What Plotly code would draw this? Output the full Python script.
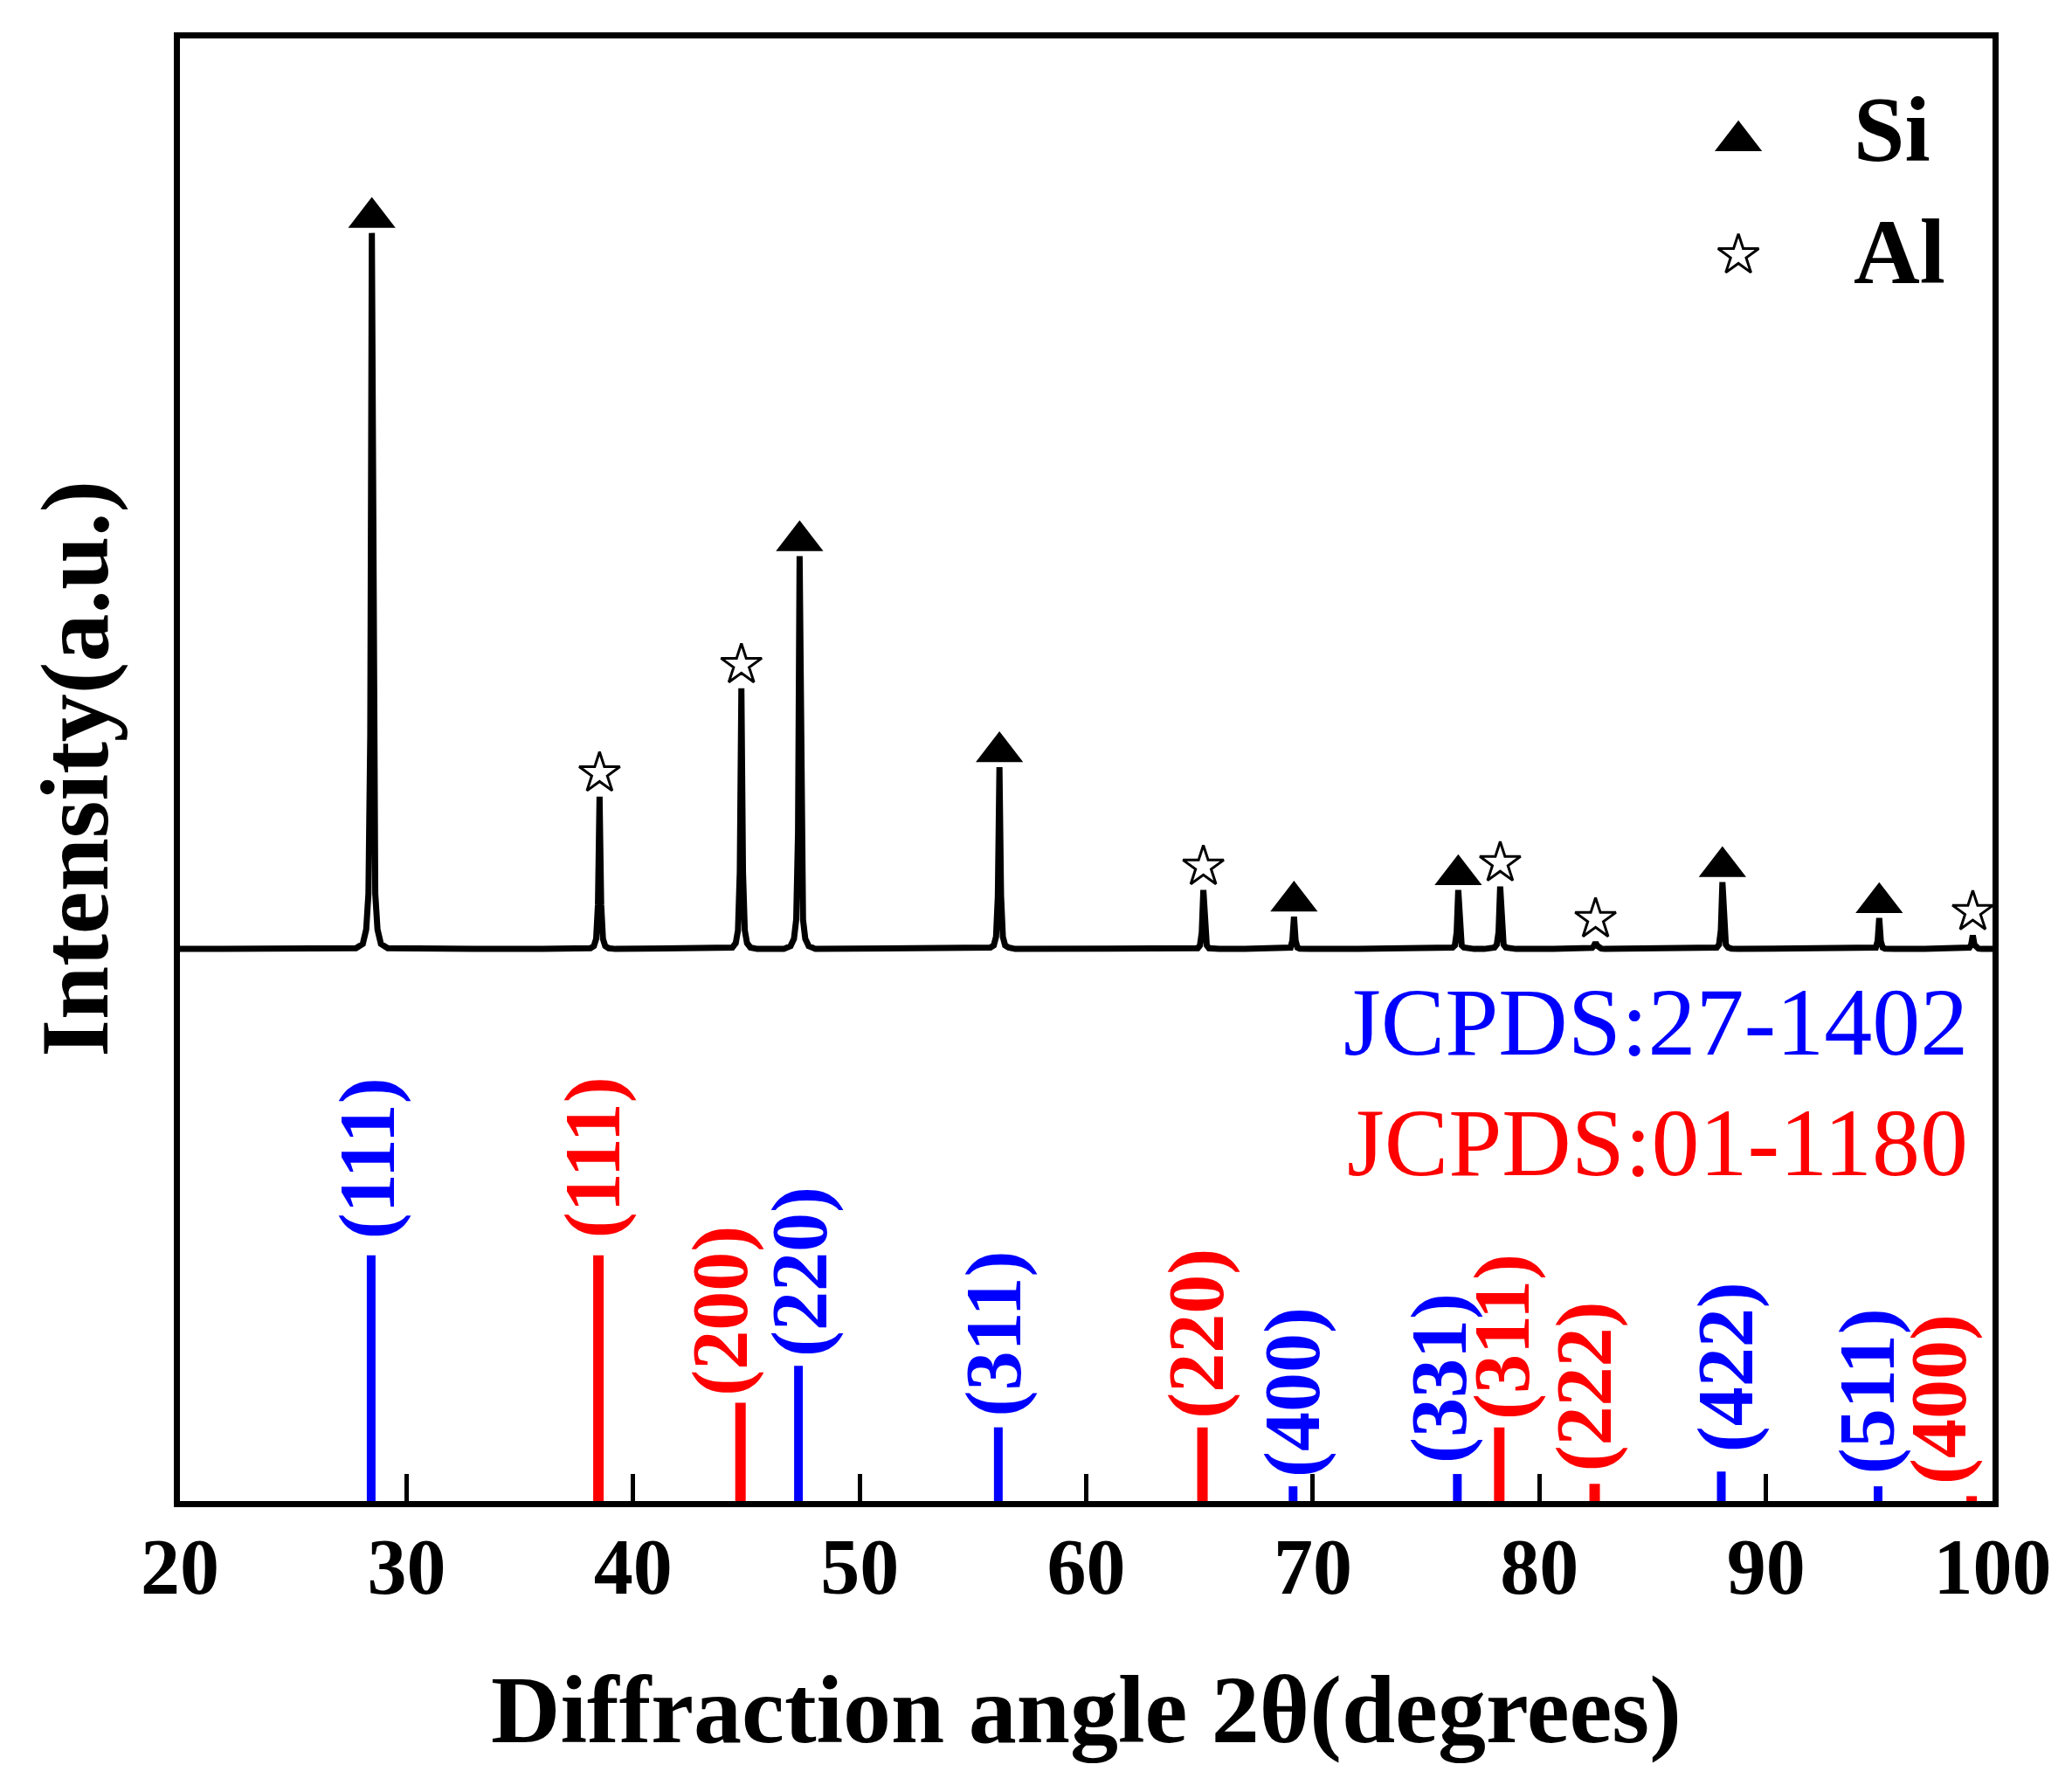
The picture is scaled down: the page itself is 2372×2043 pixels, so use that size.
import plotly.graph_objects as go

two_theta = [
    20.0, 22.0, 24.0, 26.0, 27.2,
    27.77, 28.07, 28.22, 28.32, 28.40, 28.47, 28.54, 28.62, 28.72, 28.87, 29.17,
    30.5, 33.0, 36.0,
    37.82, 38.12, 38.27, 38.37, 38.45, 38.52, 38.59, 38.67, 38.77, 38.92, 39.22,
    41.0, 43.0,
    44.08, 44.38, 44.53, 44.63, 44.71, 44.78, 44.85, 44.93, 45.03, 45.18, 45.48,
    46.2,
    46.65, 46.95, 47.10, 47.20, 47.28, 47.35, 47.42, 47.50, 47.60, 47.75, 48.05,
    50.0, 53.0,
    55.47, 55.77, 55.92, 56.02, 56.10, 56.17, 56.24, 56.32, 56.42, 56.57, 56.87,
    59.0, 62.0,
    64.47, 64.77, 64.92, 65.02, 65.10, 65.17, 65.24, 65.32, 65.42, 65.57, 65.87,
    67.0,
    68.47, 68.77, 68.92, 69.02, 69.10, 69.17, 69.24, 69.32, 69.42, 69.57, 69.87,
    72.0, 74.5,
    75.72, 76.02, 76.17, 76.27, 76.35, 76.42, 76.49, 76.57, 76.67, 76.82, 77.12,
    77.57, 77.87, 78.02, 78.12, 78.20, 78.27, 78.34, 78.42, 78.52, 78.67, 78.97,
    80.5,
    81.78, 82.08, 82.23, 82.33, 82.41, 82.48, 82.55, 82.63, 82.73, 82.88, 83.18,
    85.0,
    87.38, 87.68, 87.83, 87.93, 88.01, 88.08, 88.15, 88.23, 88.33, 88.48, 88.78,
    91.5,
    94.30, 94.60, 94.75, 94.85, 94.93, 95.00, 95.07, 95.15, 95.25, 95.40, 95.70,
    97.0,
    98.43, 98.73, 98.88, 98.98, 99.06, 99.13, 99.20, 99.28, 99.38, 99.53, 99.83,
    100.0,
]
intensity = [
    0.3, 0.3, 0.35, 0.3, 0.35,
    0.4, 1.0, 3.0, 8.0, 30.0, 100.0, 30.0, 8.0, 3.0, 1.0, 0.4,
    0.3, 0.3, 0.3,
    0.3, 0.4, 0.7, 1.7, 6.5, 21.5, 6.5, 1.7, 0.7, 0.4, 0.3,
    0.3, 0.3,
    0.3, 0.5, 1.1, 2.9, 11.0, 36.6, 11.0, 2.9, 1.1, 0.5, 0.3,
    0.3,
    0.3, 0.7, 1.7, 4.4, 16.5, 55.0, 16.5, 4.4, 1.7, 0.7, 0.3,
    0.3, 0.3,
    0.3, 0.5, 0.8, 2.0, 7.7, 25.6, 7.7, 2.0, 0.8, 0.5, 0.3,
    0.3, 0.3,
    0.3, 0.3, 0.4, 0.8, 2.6, 8.5, 2.6, 0.8, 0.4, 0.3, 0.3,
    0.3,
    0.3, 0.3, 0.35, 0.5, 1.5, 4.8, 1.5, 0.5, 0.35, 0.3, 0.3,
    0.3, 0.3,
    0.3, 0.4, 0.5, 0.8, 2.6, 8.5, 2.6, 0.8, 0.5, 0.4, 0.3,
    0.3, 0.4, 0.5, 0.9, 2.7, 9.0, 2.7, 0.9, 0.5, 0.4, 0.3,
    0.3,
    0.3, 0.3, 0.35, 0.45, 0.75, 1.2, 0.75, 0.45, 0.35, 0.3, 0.3,
    0.3,
    0.3, 0.35, 0.5, 0.9, 2.9, 9.6, 2.9, 0.9, 0.5, 0.35, 0.3,
    0.3,
    0.3, 0.3, 0.35, 0.5, 1.4, 4.6, 1.4, 0.5, 0.35, 0.3, 0.3,
    0.3,
    0.3, 0.3, 0.35, 0.5, 0.9, 2.2, 0.9, 0.5, 0.35, 0.3, 0.3,
    0.3,
]

# peaks marked in the pattern
si_peaks = [28.47, 47.35, 56.17, 69.17, 76.42, 88.08, 95.00]
al_peaks = [38.52, 44.78, 65.17, 78.27, 82.48, 99.13]

# reference cards
si_card = "JCPDS:27-1402"
si_ref_2theta = [28.44, 47.30, 56.12, 69.13, 76.38, 88.03, 94.95]
si_ref_int = [100, 55, 30, 6, 11, 12, 6]
si_ref_hkl = ["(111)", "(220)", "(311)", "(400)", "(331)", "(422)", "(511)"]

al_card = "JCPDS:01-1180"
al_ref_2theta = [38.47, 44.74, 65.13, 78.23, 82.44, 99.08]
al_ref_int = [100, 40, 30, 30, 7, 2]
al_ref_hkl = ["(111)", "(200)", "(220)", "(311)", "(222)", "(400)"]

# stacking of the two panels inside one frame
pat_offset, pat_scale = 37.6, 0.491
ref_scale = 0.168
tri_gap, star_gap = 1.05, 1.6

FONT = "Liberation Serif, Times New Roman, serif"
BLUE, RED = "#0000FF", "#FF0000"

# nudges for the hkl labels (x px, y px)
si_nudge = {"(111)": (-4, 17), "(220)": (2, 8), "(311)": (-5, 10), "(400)": (-1, 8),
            "(331)": (-21, 10), "(422)": (5, 20), "(511)": (-12, 12)}
al_nudge = {"(111)": (-6, 17), "(200)": (-23, 6), "(220)": (-6, 8), "(311)": (3, 7),
            "(222)": (-12, 12), "(400)": (-37, 11)}

lookup = dict(zip(two_theta, intensity))

fig = go.Figure()

fig.add_trace(go.Scatter(
    x=two_theta, y=[pat_offset + v * pat_scale for v in intensity],
    mode="lines", line=dict(color="black", width=7), showlegend=False))


def sticks(pos, rel, color, width):
    xs, ys = [], []
    for p, r in zip(pos, rel):
        xs += [p, p, None]
        ys += [0, r * ref_scale, None]
    return go.Scatter(x=xs, y=ys, mode="lines", line=dict(color=color, width=width),
                      showlegend=False)


fig.add_trace(sticks(si_ref_2theta, si_ref_int, BLUE, 10))
fig.add_trace(sticks(al_ref_2theta, al_ref_int, RED, 12))

tri = dict(symbol="triangle-up", size=47, color="black")
star = dict(symbol="star-open", size=35, color="black", line=dict(width=3, color="black"))

fig.add_trace(go.Scatter(
    x=si_peaks, y=[pat_offset + lookup[p] * pat_scale + tri_gap for p in si_peaks],
    mode="markers", marker=tri, cliponaxis=False, showlegend=False))
fig.add_trace(go.Scatter(
    x=al_peaks, y=[pat_offset + lookup[p] * pat_scale + star_gap for p in al_peaks],
    mode="markers", marker=star, cliponaxis=False, showlegend=False))

# key in the upper right corner
fig.add_trace(go.Scatter(x=[0.8598], y=[0.930], xaxis="x2", yaxis="y2", mode="markers",
                         marker=tri, cliponaxis=False, showlegend=False))
fig.add_trace(go.Scatter(x=[0.8598], y=[0.8518], xaxis="x2", yaxis="y2", mode="markers",
                         marker=star, cliponaxis=False, showlegend=False))

annotations = [
    dict(text="Si", x=0.9224, y=0.9373, xanchor="left", yanchor="middle",
         font=dict(family=FONT, size=105, weight="bold", color="black")),
    dict(text="Al", x=0.9224, y=0.8542, xanchor="left", yanchor="middle",
         font=dict(family=FONT, size=105, weight="bold", color="black")),
    dict(text=si_card, x=0.9875, y=0.3274, xanchor="right", yanchor="middle",
         font=dict(family=FONT, size=110, color=BLUE)),
    dict(text=al_card, x=0.9875, y=0.2449, xanchor="right", yanchor="middle",
         font=dict(family=FONT, size=110, color=RED)),
    dict(text="Diffraction angle 2θ(degrees)", x=0.5, y=-0.1428, xanchor="center",
         yanchor="middle", font=dict(family=FONT, size=110, weight="bold", color="black")),
    dict(text="Intensity(a.u.)", x=-0.0576, y=0.501, xanchor="center", yanchor="middle",
         textangle=-90, font=dict(family=FONT, size=110, weight="bold", color="black")),
]
for a in annotations:
    a.update(xref="paper", yref="paper", showarrow=False)

for pos, rel, hkl, color, nudge in [
        (si_ref_2theta, si_ref_int, si_ref_hkl, BLUE, si_nudge),
        (al_ref_2theta, al_ref_int, al_ref_hkl, RED, al_nudge)]:
    for p, r, h in zip(pos, rel, hkl):
        dx, dy = nudge[h]
        annotations.append(dict(
            text=h, x=p, y=r * ref_scale, xref="x", yref="y", showarrow=False,
            textangle=-90, xanchor="center", yanchor="bottom", xshift=dx, yshift=dy,
            font=dict(family=FONT, size=90, weight="bold", color=color)))

fig.update_layout(
    width=2372, height=2043,
    margin=dict(l=198, r=99, t=36, b=333, pad=0),
    paper_bgcolor="white", plot_bgcolor="white",
    annotations=annotations,
    xaxis=dict(range=[20, 100], dtick=10, tick0=20, ticks="inside", ticklen=31,
               tickwidth=5, tickcolor="black", showline=True, linewidth=7,
               linecolor="black", mirror=True, showgrid=False, zeroline=False,
               ticklabelstandoff=-9,
               tickfont=dict(family=FONT, size=90, weight="bold", color="black")),
    yaxis=dict(range=[0, 100], showticklabels=False, ticks="", showline=True,
               linewidth=7, linecolor="black", mirror=True, showgrid=False,
               zeroline=False),
    xaxis2=dict(range=[0, 1], overlaying="x", anchor="y2", visible=False),
    yaxis2=dict(range=[0, 1], overlaying="y", anchor="x2", visible=False),
)

fig.write_html("out.html")
